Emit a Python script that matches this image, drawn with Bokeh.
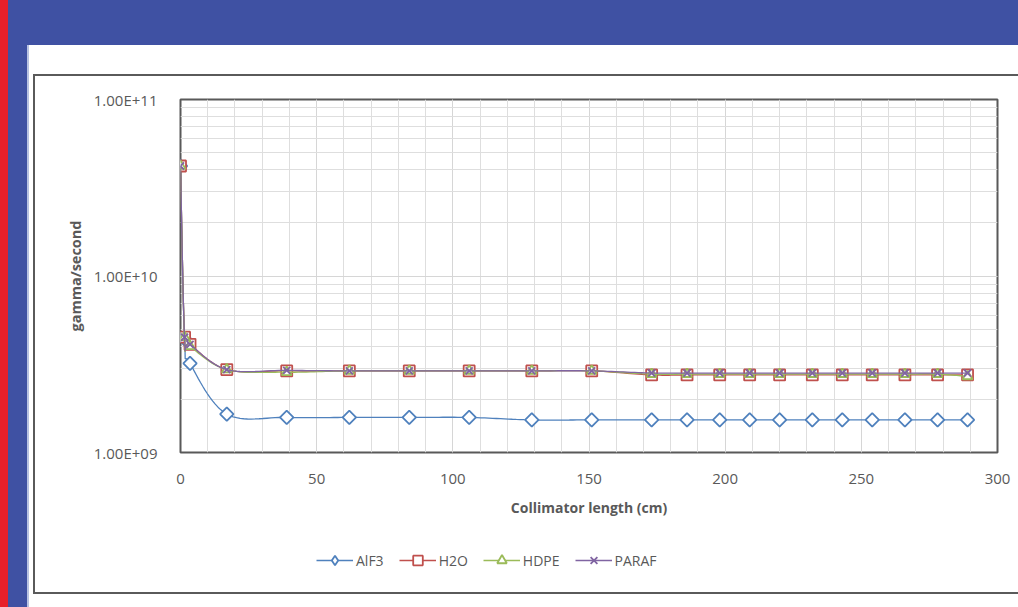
import numpy as np
from bokeh.plotting import figure
from bokeh.layouts import column
from bokeh.models import (Legend, LegendItem, CustomJSTickFormatter,
                          SingleIntervalTicker, LogTicker, ColumnDataSource)
from bokeh.embed import file_html
from bokeh.resources import INLINE

# ---------------- data ----------------
lengths = [0, 1.5, 3.5, 17, 39, 62, 84, 106, 129, 151, 173, 186, 198, 209, 220, 232, 243, 254, 266, 278, 289]
alf3 = [4.2e10, 4.4e9, 3.2e9, 1.65e9, 1.58e9, 1.58e9, 1.58e9, 1.58e9, 1.53e9, 1.53e9,
        1.53e9, 1.53e9, 1.53e9, 1.53e9, 1.53e9, 1.53e9, 1.53e9, 1.53e9, 1.53e9, 1.53e9, 1.53e9]
h2o = [4.2e10, 4.5e9, 4.1e9, 2.95e9, 2.9e9, 2.9e9, 2.9e9, 2.9e9, 2.9e9, 2.9e9,
       2.75e9, 2.75e9, 2.75e9, 2.75e9, 2.75e9, 2.75e9, 2.75e9, 2.75e9, 2.75e9, 2.75e9, 2.75e9]
hdpe = [4.2e10, 4.5e9, 4.0e9, 2.95e9, 2.85e9, 2.9e9, 2.9e9, 2.9e9, 2.9e9, 2.9e9,
        2.78e9, 2.78e9, 2.78e9, 2.78e9, 2.78e9, 2.78e9, 2.78e9, 2.78e9, 2.78e9, 2.78e9, 2.7e9]
paraf = [4.2e10, 4.5e9, 4.1e9, 2.95e9, 2.92e9, 2.9e9, 2.9e9, 2.9e9, 2.9e9, 2.9e9,
         2.82e9, 2.82e9, 2.82e9, 2.82e9, 2.82e9, 2.82e9, 2.82e9, 2.82e9, 2.82e9, 2.82e9, 2.82e9]
series_names = ["AlF3", "H2O", "HDPE", "PARAF"]
series_values = [alf3, h2o, hdpe, paraf]
colors = ["#4F81BD", "#C0504D", "#9BBB59", "#8064A2"]
markers = ["square", "square", "triangle", "x"]
legend_markers = ["diamond", "square", "triangle", "x"]
marker_angles = [np.pi / 4, 0, 0, 0]
marker_sizes = [9.5, 11, 10, 10]

TEXT = "#595959"
FONT = "Open Sans"

# pixel scale factors used only to smooth the line in screen-proportional space
KX = 817 / 300.0
KY = 176.5


def smooth(xs, ys, n=16):
    u = np.asarray(xs, float) * KX
    v = np.log10(np.asarray(ys, float)) * KY
    pts = np.column_stack([u, v])
    P = np.vstack([pts[0], pts, pts[-1]])
    out = []
    t = np.linspace(0, 1, n, endpoint=False)[:, None]
    for i in range(1, len(P) - 2):
        p0, p1, p2, p3 = P[i - 1], P[i], P[i + 1], P[i + 2]
        c1 = p1 + (p2 - p0) / 6.0
        c2 = p2 - (p3 - p1) / 6.0
        b = (1 - t) ** 3 * p1 + 3 * (1 - t) ** 2 * t * c1 + 3 * (1 - t) * t ** 2 * c2 + t ** 3 * p2
        out.append(b)
    out.append(pts[-1:])
    arr = np.vstack(out)
    return arr[:, 0] / KX, 10 ** (arr[:, 1] / KY)


page_background = ", ".join([
    "linear-gradient(#E8202A,#E8202A) 0px 0px / 8px 100% no-repeat",
    "linear-gradient(#ffffff,#ffffff) 35px 76px / 983px 516px no-repeat",
    "linear-gradient(#5a5a5a,#5a5a5a) 33px 74px / 990px 520px no-repeat",
    "linear-gradient(#ffffff,#ffffff) 29px 45px / 989px 562px no-repeat",
    "linear-gradient(#b8c2e2,#b8c2e2) 27px 45px / 2px 562px no-repeat",
    "#3F51A3",
])

p = figure(width=1018, height=530, x_range=(0, 300), y_range=(1e9, 1e11),
           y_axis_type="log", output_backend="svg", toolbar_location=None,
           min_border_left=180, min_border_right=21, min_border_top=99, min_border_bottom=78)
p.background_fill_color = "white"
p.border_fill_alpha = 0
p.outline_line_color = "#595959"
p.outline_line_width = 2

# axes
p.xaxis.ticker = SingleIntervalTicker(interval=50, num_minor_ticks=5)
p.yaxis.ticker = LogTicker(num_minor_ticks=10)
p.yaxis.formatter = CustomJSTickFormatter(code="""
    const e = Math.round(Math.log10(tick));
    return '1.00E+' + (e < 10 ? '0' : '') + e;
""")
for ax in (p.xaxis, p.yaxis):
    ax.axis_line_color = None
    ax.major_tick_line_color = None
    ax.minor_tick_line_color = None
    ax.major_label_text_font = FONT
    ax.major_label_text_font_size = "15px"
    ax.major_label_text_color = TEXT
    ax.axis_label_text_font = FONT
    ax.axis_label_text_font_style = "bold"
    ax.axis_label_text_color = TEXT
p.xaxis.axis_label = "Collimator length (cm)"
p.yaxis.axis_label = "gamma/second"
p.xaxis.axis_label_text_font_size = "14px"
p.yaxis.axis_label_text_font_size = "14.5px"
p.xaxis.major_label_standoff = 15
p.xaxis.axis_label_standoff = 11
p.yaxis.major_label_standoff = 17
p.yaxis.axis_label_standoff = 6

for g in (p.xgrid, p.ygrid):
    g.grid_line_color = "#d6d6d6"
    g.minor_grid_line_color = "#dedede"
    g.grid_line_width = 1

# legend strip (separate transparent figure underneath the chart)
pl = figure(width=1018, height=77, x_range=(0, 1), y_range=(0, 1), output_backend="svg",
            toolbar_location=None, min_border=0, x_axis_location=None, y_axis_location=None)
pl.background_fill_alpha = 0
pl.border_fill_alpha = 0
pl.outline_line_color = None
pl.grid.visible = False

items = []
for name, vals, col, mk, lmk, ang, sz in zip(series_names, series_values, colors, markers,
                                             legend_markers, marker_angles, marker_sizes):
    sx, sy = smooth(lengths, vals)
    p.line(sx, sy, line_color=col, line_width=1.3)
    src = ColumnDataSource(dict(x=lengths, y=vals))
    p.scatter("x", "y", source=src, marker=mk, size=sz, angle=ang,
              line_color=col, line_width=1.8, fill_color="white")
    # off-range proxies that only supply the legend glyph styling
    lr = pl.line([-5, -4], [-5, -5], line_color=col, line_width=1.3)
    mr = pl.scatter([-5], [-5], marker=lmk, size=sz,
                    line_color=col, line_width=1.8, fill_color="white")
    items.append(LegendItem(label=name, renderers=[lr, mr]))

legend = Legend(items=items, orientation="horizontal", location=(136, 35),
                border_line_color=None, background_fill_alpha=0,
                glyph_width=37, glyph_height=24, label_standoff=3, spacing=15,
                padding=0, margin=0, label_text_font=FONT, label_text_font_size="14px",
                label_text_color=TEXT, label_height=24)
pl.add_layout(legend)

layout = column(p, pl, spacing=0, styles={"background": page_background})
open("out.html", "w").write(file_html(layout, INLINE))
